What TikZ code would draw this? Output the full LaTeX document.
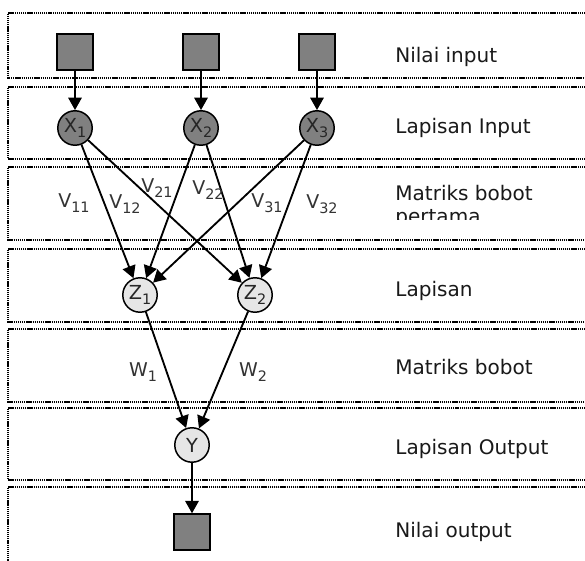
\documentclass[tikz,border=0pt]{standalone}
\usepackage{fontspec}
\setmainfont{DejaVu Sans}
\usepackage{xcolor}
\usepackage{tikz}
\usetikzlibrary{arrows.meta}
\definecolor{darknode}{RGB}{128,128,128}
\definecolor{lightnode}{RGB}{230,230,230}
\newcommand{\subidx}[1]{\raisebox{-0.45ex}{\fontsize{8.2}{9}\selectfont #1}}

\begin{document}
\begin{tikzpicture}[scale=0.2]
                \tikzstyle{every node}+=[inner sep=0pt]
                \tikzstyle{band}=[black, line width=1.35pt, dash pattern=on 0.75pt off 0.45pt]
                \tikzstyle{unit}=[circle, draw=black, line width=0.85pt, minimum size=19.6pt, font=\fontsize{11}{12}\selectfont, text=black!85]
                \tikzstyle{inp}=[rectangle, draw=black, line width=0.9pt, fill=darknode, minimum size=20.4pt]
                \tikzstyle{wire}=[black, line width=1.05pt, -{Triangle[length=7pt,width=7.6pt]}]
                \tikzstyle{layer}=[anchor=base west, font=\fontsize{11.4}{13}\selectfont, text=black!90]
                \tikzstyle{weight}=[font=\fontsize{10.8}{12}\selectfont, text=black!80]
                \useasboundingbox (0,0) rectangle (58.5,-56.1);
                \clip (0,0) rectangle (58.5,-56.1);
                \draw [band] (60,-1.3) -- (0.8,-1.3) -- (0.8,-7.8) -- (60,-7.8);
                \draw [band] (60,-8.7) -- (0.8,-8.7) -- (0.8,-15.9) -- (60,-15.9);
                \draw [band] (60,-16.7) -- (0.8,-16.7) -- (0.8,-24.0) -- (60,-24.0);
                \draw [band] (60,-24.9) -- (0.8,-24.9) -- (0.8,-32.2) -- (60,-32.2);
                \draw [band] (60,-32.9) -- (0.8,-32.9) -- (0.8,-40.2) -- (60,-40.2);
                \draw [band] (60,-40.8) -- (0.8,-40.8) -- (0.8,-48.0) -- (60,-48.0);
                \draw [band] (60,-48.7) -- (0.8,-48.7) -- (0.8,-60);
                \node [inp] (I1) at (7.5,-5.2) {};
                \node [inp] (I2) at (20.1,-5.2) {};
                \node [inp] (I3) at (31.7,-5.2) {};
                \node [unit, fill=darknode] (X1) at (7.5,-12.8) {X\subidx{1}};
                \node [unit, fill=darknode] (X2) at (20.1,-12.8) {X\subidx{2}};
                \node [unit, fill=darknode] (X3) at (31.7,-12.8) {X\subidx{3}};
                \node [unit, fill=lightnode] (Z1) at (14.0,-29.5) {Z\subidx{1}};
                \node [unit, fill=lightnode] (Z2) at (25.5,-29.5) {Z\subidx{2}};
                \node [unit, fill=lightnode] (Y) at (19.2,-44.5) {Y};
                \node [inp] (O) at (19.2,-53.2) {};
                \draw [wire] (I1) -- (X1);
                \draw [wire] (I2) -- (X2);
                \draw [wire] (I3) -- (X3);
                \draw [wire] (X1) -- (Z1);
                \draw [wire] (X1) -- (Z2);
                \draw [wire] (X2) -- (Z1);
                \draw [wire] (X2) -- (Z2);
                \draw [wire] (X3) -- (Z1);
                \draw [wire] (X3) -- (Z2);
                \draw [wire] (Z1) -- (Y);
                \draw [wire] (Z2) -- (Y);
                \draw [wire] (Y) -- (O);
                \node [weight] (v11) at (7.4,-20.3) {V\subidx{11}};
                \node [weight] (v12) at (12.5,-20.4) {V\subidx{12}};
                \node [weight] (v21) at (15.7,-18.8) {V\subidx{21}};
                \node [weight] (v22) at (20.8,-19.0) {V\subidx{22}};
                \node [weight] (v31) at (26.7,-20.3) {V\subidx{31}};
                \node [weight] (v32) at (32.2,-20.4) {V\subidx{32}};
                \node [weight] (w1) at (14.3,-37.2) {W\subidx{1}};
                \node [weight] (w2) at (25.3,-37.2) {W\subidx{2}};
                \node [layer] (L1) at (39.5,-6.3) {Nilai input};
                \node [layer] (L2) at (39.5,-13.4) {Lapisan Input};
                \node [layer] (L3) at (39.5,-20.1) {Matriks bobot};
                \begin{scope}
                \clip (38,-16.7) rectangle (58.5,-22.0);
                \node [layer] (L3b) at (39.5,-22.4) {pertama};
                \end{scope}
                \node [layer] (L4) at (39.5,-29.7) {Lapisan};
                \node [layer] (L5) at (39.5,-37.5) {Matriks bobot};
                \node [layer] (L6) at (39.5,-45.5) {Lapisan Output};
                \node [layer] (L7) at (39.5,-53.7) {Nilai output};
\end{tikzpicture}
\end{document}
